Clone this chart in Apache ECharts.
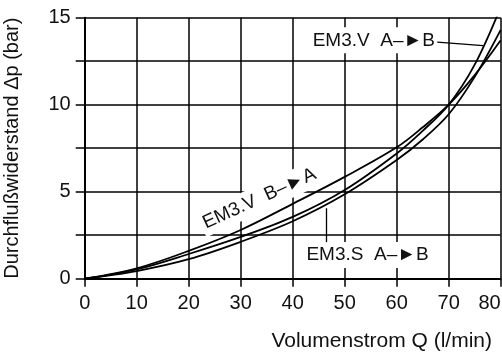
<!DOCTYPE html>
<html>
<head>
<meta charset="utf-8">
<script src="https://cdn.jsdelivr.net/npm/echarts@6/dist/echarts.min.js"></script>
<style>
    html, body { margin: 0; padding: 0; background: #fff; }
    #chartContainer { width: 502px; height: 353px; }
</style>
</head>
<body>
<div id="chartContainer"></div>
<script>
// flow values (l/min)
var flowQ = [0, 10, 20, 30, 40, 50, 60, 65, 70, 75, 80];
var dpVBA = [0, 0.6, 1.6, 2.8, 4.3, 5.85, 7.55, 8.7, 10.0, 11.7, 13.7];
var dpVAB = [0, 0.54, 1.42, 2.4, 3.55, 5.1, 7.2, 8.5, 10.0, 12.3, 15.6];
var dpSAB = [0, 0.44, 1.12, 2.12, 3.3, 4.85, 6.82, 8.0, 9.45, 11.6, 14.3];

// curve labels: text, anchor point [Q, dp], rotation
var labelVAB = ['EM3.V  A\u2013\u25BAB', [55.6, 13.7], 0];
var labelVBA = ['EM3.V  B\u2013\u25BAA', [33.6, 4.6], 24.6];
var labelSAB = ['EM3.S  A\u2013\u25BAB', [54.4, 1.36], 0];
// leader lines [from, to]
var leaderVAB = [[67.8, 13.6], [76.6, 13.4]];
var leaderSAB = [[46.4, 2.1], [46.4, 4.05]];

function pairs(xs, ys) {
    var out = [];
    for (var i = 0; i < xs.length; i++) {
        out.push([xs[i], ys[i]]);
    }
    return out;
}

function labelPoint(lbl) {
    return {
        coord: lbl[1],
        symbol: 'circle',
        symbolSize: 0,
        itemStyle: { color: 'rgba(0,0,0,0)' },
        label: {
            show: true,
            position: 'inside',
            formatter: lbl[0],
            rotate: lbl[2],
            color: '#111',
            fontFamily: 'Liberation Sans',
            fontSize: 19,
            backgroundColor: '#fff',
            padding: [4, 3, 3, 3]
        }
    };
}

function leader(l) {
    return [{ coord: l[0] }, { coord: l[1] }];
}

var chartContainer = document.getElementById('chartContainer');
var chart = echarts.init(chartContainer, null, { renderer: 'canvas' });

var curveStyle = { color: '#000', width: 1.8 };

var option = {
    animation: false,
    backgroundColor: '#fff',
    grid: { left: 84.7, top: 17.7, right: 1.3, bottom: 74.3, outerBoundsMode: 'none', containLabel: false },
    xAxis: {
        type: 'value',
        min: 0,
        max: 80,
        interval: 10,
        name: 'Volumenstrom Q (l/min)',
        nameLocation: 'middle',
        nameGap: 52,
        nameTextStyle: {
            color: '#111',
            fontFamily: 'Liberation Sans',
            fontSize: 21,
            padding: [0, 0, 0, 178]
        },
        axisLine: { show: true, onZero: false, lineStyle: { color: '#000', width: 2 } },
        axisTick: { show: true, length: 8, lineStyle: { color: '#000', width: 1.5 } },
        axisLabel: {
            color: '#111',
            fontFamily: 'Liberation Sans',
            fontSize: 20,
            margin: 15,
            alignMaxLabel: 'right'
        },
        splitLine: { show: true, lineStyle: { color: '#000', width: 1.5 } }
    },
    yAxis: {
        type: 'value',
        min: 0,
        max: 15,
        interval: 2.5,
        name: 'Durchflußwiderstand \u0394p (bar)',
        nameLocation: 'middle',
        nameGap: 62,
        nameTextStyle: {
            color: '#111',
            fontFamily: 'Liberation Sans',
            fontSize: 20
        },
        axisLine: { show: true, onZero: false, lineStyle: { color: '#000', width: 2 } },
        axisTick: { show: true, length: 9, lineStyle: { color: '#000', width: 1.5 } },
        axisLabel: {
            color: '#111',
            fontFamily: 'Liberation Sans',
            fontSize: 20,
            margin: 14,
            formatter: function (v) {
                return v % 5 === 0 ? String(v) : '';
            }
        },
        splitLine: { show: true, lineStyle: { color: '#000', width: 1.5 } }
    },
    series: [
        {
            name: 'EM3.V B-A',
            type: 'line',
            data: pairs(flowQ, dpVBA),
            smooth: 0.35,
            symbol: 'none',
            lineStyle: curveStyle,
            z: 3,
            markPoint: { z: 1, data: [labelPoint(labelVBA)] }
        },
        {
            name: 'EM3.V A-B',
            type: 'line',
            data: pairs(flowQ, dpVAB),
            smooth: 0.35,
            symbol: 'none',
            lineStyle: curveStyle,
            z: 3,
            markPoint: { z: 1, data: [labelPoint(labelVAB)] },
            markLine: {
                silent: true,
                symbol: 'none',
                label: { show: false },
                lineStyle: { color: '#000', width: 1.3, type: 'solid' },
                data: [leader(leaderVAB)]
            }
        },
        {
            name: 'EM3.S A-B',
            type: 'line',
            data: pairs(flowQ, dpSAB),
            smooth: 0.35,
            symbol: 'none',
            lineStyle: curveStyle,
            z: 3,
            markPoint: { z: 1, data: [labelPoint(labelSAB)] },
            markLine: {
                silent: true,
                symbol: 'none',
                label: { show: false },
                lineStyle: { color: '#000', width: 1.3, type: 'solid' },
                data: [leader(leaderSAB)]
            }
        }
    ]
};

chart.setOption(option);
window.addEventListener('resize', chart.resize);
</script>
</body>
</html>
